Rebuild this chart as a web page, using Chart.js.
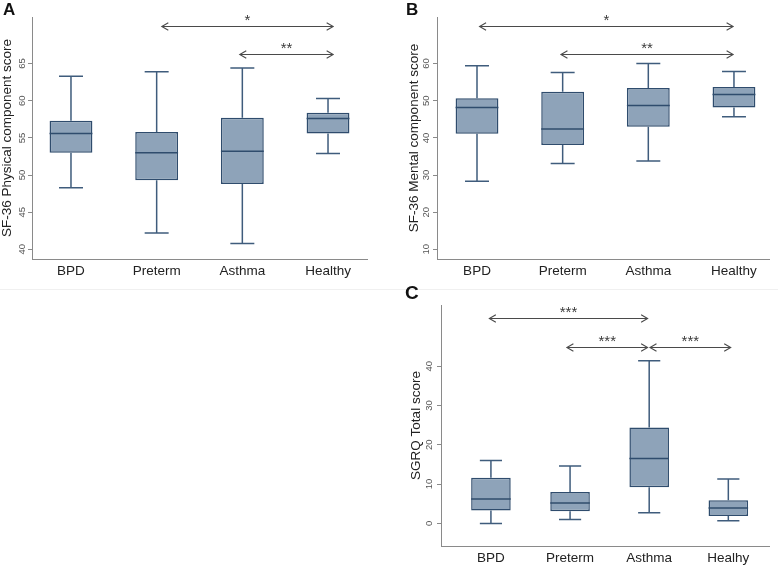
<!DOCTYPE html>
<html><head><meta charset="utf-8">
<script src="https://cdn.jsdelivr.net/npm/chart.js@4/dist/chart.umd.min.js"></script>
<style>
html,body{margin:0;padding:0;background:#fff;}
body{width:778px;height:567px;position:relative;overflow:hidden;font-family:"Liberation Sans",Arial,sans-serif;}
canvas{position:absolute;}
.lab{position:absolute;font-weight:bold;color:#111;line-height:1;font-family:"Liberation Sans",Arial,sans-serif;}
.sep{position:absolute;height:1px;background:#f0f0f0;}
</style></head><body>
<div class="sep" style="left:0;top:289px;width:778px"></div>
<canvas id="cA" width="389" height="290" style="left:0;top:0"></canvas>
<canvas id="cB" width="389" height="290" style="left:389px;top:0"></canvas>
<canvas id="cC" width="389" height="277" style="left:389px;top:290px"></canvas>
<div class="lab" style="left:3px;top:1px;font-size:17px">A</div>
<div class="lab" style="left:406px;top:1px;font-size:17px">B</div>
<div class="lab" style="left:405px;top:283px;font-size:19px">C</div>
<script>
// ---- categories ----
const categoriesAB = ['BPD', 'Preterm', 'Asthma', 'Healthy'];
const categoriesC = ['BPD', 'Preterm', 'Asthma', 'Healhy'];

// ---- Panel A: SF-36 Physical component score ----
const pcsMin    = [48.3, 42.2, 40.8, 52.9];
const pcsQ1     = [53.0, 49.3, 48.8, 55.6];
const pcsMedian = [55.6, 53.0, 53.2, 57.6];
const pcsQ3     = [57.3, 55.8, 57.7, 58.4];
const pcsMax    = [63.3, 63.9, 64.4, 60.3];
const pcsTicks  = [40, 45, 50, 55, 60, 65];
const pcsSigFrom  = [1.06, 1.97];
const pcsSigTo    = [3.06, 3.06];
const pcsSigY     = [70.1, 66.3];
const pcsSigLabel = ['*', '**'];

// ---- Panel B: SF-36 Mental component score ----
const mcsMin    = [28.3, 33.1, 33.8, 45.7];
const mcsQ1     = [41.1, 38.1, 43.0, 48.2];
const mcsMedian = [48.2, 42.4, 48.7, 51.7];
const mcsQ3     = [50.7, 52.4, 53.4, 53.7];
const mcsMax    = [59.4, 57.6, 60.0, 57.9];
const mcsTicks  = [10, 20, 30, 40, 50, 60];
const mcsSigFrom  = [0.03, 0.98];
const mcsSigTo    = [2.99, 2.99];
const mcsSigY     = [70.1, 62.7];
const mcsSigLabel = ['*', '**'];

// ---- Panel C: SGRQ Total score ----
const sgrqMin    = [0.0, 1.0, 2.7, 0.7];
const sgrqQ1     = [3.3, 3.1, 9.2, 1.9];
const sgrqMedian = [6.2, 5.2, 16.5, 3.9];
const sgrqQ3     = [11.6, 8.0, 24.4, 5.9];
const sgrqMax    = [16.0, 14.6, 41.4, 11.3];
const sgrqTicks  = [0, 10, 20, 30, 40];
const sgrqSigFrom  = [-0.02, 0.96, 2.01];
const sgrqSigTo    = [1.98, 1.98, 3.03];
const sgrqSigY     = [52.3, 45.0, 45.0];
const sgrqSigLabel = ['***', '***', '***'];

const FONT = "'Liberation Sans', Arial, Helvetica, sans-serif";
const BOX_FILL = '#8ea3b9';
const BOX_LINE = '#2f4c6d';
const WHISK = '#3f5c7c';
const AXIS = '#8a8a8a';
const ARROW = '#4a4a4a';
const CAP_HALF = 0.14;

function extras(mins, q1s, meds, q3s, maxs, sFrom, sTo, sY, sLab) {
  return {
    id: 'boxExtras',
    afterDatasetsDraw(chart) {
      const xs = chart.scales.x, ys = chart.scales.y, ctx = chart.ctx;
      const meta = chart.getDatasetMeta(0);
      ctx.save();
      ctx.lineCap = 'butt';
      for (let i = 0; i < meds.length; i++) {
        const x = xs.getPixelForValue(i);
        const hw = xs.getPixelForValue(i + CAP_HALF) - x;
        const bar = meta.data[i];
        const bw = bar.width / 2;
        const yMax = ys.getPixelForValue(maxs[i]);
        const yQ3 = ys.getPixelForValue(q3s[i]);
        const yQ1 = ys.getPixelForValue(q1s[i]);
        const yMin = ys.getPixelForValue(mins[i]);
        const yMed = ys.getPixelForValue(meds[i]);
        ctx.strokeStyle = WHISK;
        ctx.lineWidth = 1.5;
        ctx.beginPath();
        ctx.moveTo(x, yQ3); ctx.lineTo(x, yMax);
        ctx.moveTo(x - hw, yMax); ctx.lineTo(x + hw, yMax);
        ctx.moveTo(x, yQ1); ctx.lineTo(x, yMin);
        ctx.moveTo(x - hw, yMin); ctx.lineTo(x + hw, yMin);
        ctx.stroke();
        ctx.strokeStyle = BOX_LINE;
        ctx.beginPath();
        ctx.moveTo(x - bw, yMed); ctx.lineTo(x + bw, yMed);
        ctx.stroke();
      }
      ctx.strokeStyle = ARROW;
      ctx.fillStyle = '#3a3a3a';
      ctx.lineWidth = 1.1;
      ctx.font = '15px ' + FONT;
      ctx.textAlign = 'center';
      ctx.textBaseline = 'alphabetic';
      for (let k = 0; k < sY.length; k++) {
        const x1 = xs.getPixelForValue(sFrom[k]);
        const x2 = xs.getPixelForValue(sTo[k]);
        const y = Math.round(ys.getPixelForValue(sY[k])) + 0.5;
        ctx.beginPath();
        ctx.moveTo(x1, y); ctx.lineTo(x2, y);
        ctx.moveTo(x1 + 6.5, y - 3.8); ctx.lineTo(x1, y); ctx.lineTo(x1 + 6.5, y + 3.8);
        ctx.moveTo(x2 - 6.5, y - 3.8); ctx.lineTo(x2, y); ctx.lineTo(x2 - 6.5, y + 3.8);
        ctx.stroke();
        ctx.fillText(sLab[k], (x1 + x2) / 2, y - 2);
      }
      ctx.restore();
    }
  };
}

function makeChart(id, o) {
  return new Chart(document.getElementById(id), {
    type: 'bar',
    data: {
      datasets: [{
        data: o.cats.map((c, i) => ({ x: i, y: [o.q1s[i], o.q3s[i]] })),
        backgroundColor: BOX_FILL,
        borderColor: BOX_LINE,
        borderWidth: 1.5,
        borderSkipped: false,
        barPercentage: 1,
        categoryPercentage: 0.5
      }]
    },
    options: {
      responsive: false,
      animation: false,
      devicePixelRatio: 1,
      layout: { padding: o.pad },
      plugins: { legend: { display: false }, tooltip: { enabled: false } },
      scales: {
        x: {
          type: 'linear', min: o.xMin, max: o.xMax, offset: false,
          grid: { display: false, drawTicks: false },
          border: { display: true, color: AXIS, width: 1 },
          afterBuildTicks: s => { s.ticks = o.cats.map((c, i) => ({ value: i })); },
          afterFit: s => { s.height = o.xHeight; },
          ticks: {
            autoSkip: false, minRotation: 0, maxRotation: 0, padding: 4,
            color: '#222', font: { family: FONT, size: 13.5 },
            callback: v => o.cats[v]
          }
        },
        y: {
          type: 'linear', min: o.yMin, max: o.yMax,
          grid: { display: true, drawOnChartArea: false, drawTicks: true, tickLength: 4, color: AXIS },
          border: { display: true, color: AXIS, width: 1 },
          afterBuildTicks: s => { s.ticks = o.ticks.map(v => ({ value: v })); },
          afterFit: s => { s.width = o.yWidth; },
          ticks: {
            autoSkip: false, minRotation: 90, maxRotation: 90, crossAlign: 'center',
            padding: o.tickPad, color: '#555', font: { family: FONT, size: 9.5 }
          },
          title: {
            display: true, text: o.title, color: '#222',
            font: { family: FONT, size: 13.5, lineHeight: 1.1 },
            padding: { top: o.titlePad, bottom: 0 }
          }
        }
      }
    },
    plugins: [extras(o.mins, o.q1s, o.meds, o.q3s, o.maxs, o.sFrom, o.sTo, o.sY, o.sLab)]
  });
}

makeChart('cA', {
  cats: categoriesAB, mins: pcsMin, q1s: pcsQ1, meds: pcsMedian, q3s: pcsQ3, maxs: pcsMax,
  ticks: pcsTicks, yMin: 38.7, yMax: 71.27, xMin: -0.455, xMax: 3.455,
  title: 'SF-36 Physical component score',
  sFrom: pcsSigFrom, sTo: pcsSigTo, sY: pcsSigY, sLab: pcsSigLabel,
  pad: { left: 0, top: 17, right: 22, bottom: 0 }, yWidth: 32, xHeight: 31, tickPad: 0, titlePad: 0
});
makeChart('cB', {
  cats: categoriesAB, mins: mcsMin, q1s: mcsQ1, meds: mcsMedian, q3s: mcsQ3, maxs: mcsMax,
  ticks: mcsTicks, yMin: 7.4, yMax: 72.54, xMin: -0.467, xMax: 3.409,
  title: 'SF-36 Mental component score',
  sFrom: mcsSigFrom, sTo: mcsSigTo, sY: mcsSigY, sLab: mcsSigLabel,
  pad: { left: 0, top: 17, right: 9, bottom: 0 }, yWidth: 48, xHeight: 31, tickPad: 1, titlePad: 18
});
makeChart('cC', {
  cats: categoriesC, mins: sgrqMin, q1s: sgrqQ1, meds: sgrqMedian, q3s: sgrqQ3, maxs: sgrqMax,
  ticks: sgrqTicks, yMin: -5.75, yMax: 55.56, xMin: -0.631, xMax: 3.514,
  title: 'SGRQ Total score',
  sFrom: sgrqSigFrom, sTo: sgrqSigTo, sY: sgrqSigY, sLab: sgrqSigLabel,
  pad: { left: 0, top: 15, right: 9, bottom: 0 }, yWidth: 52, xHeight: 21, tickPad: 2, titlePad: 20
});
</script>
</body></html>
